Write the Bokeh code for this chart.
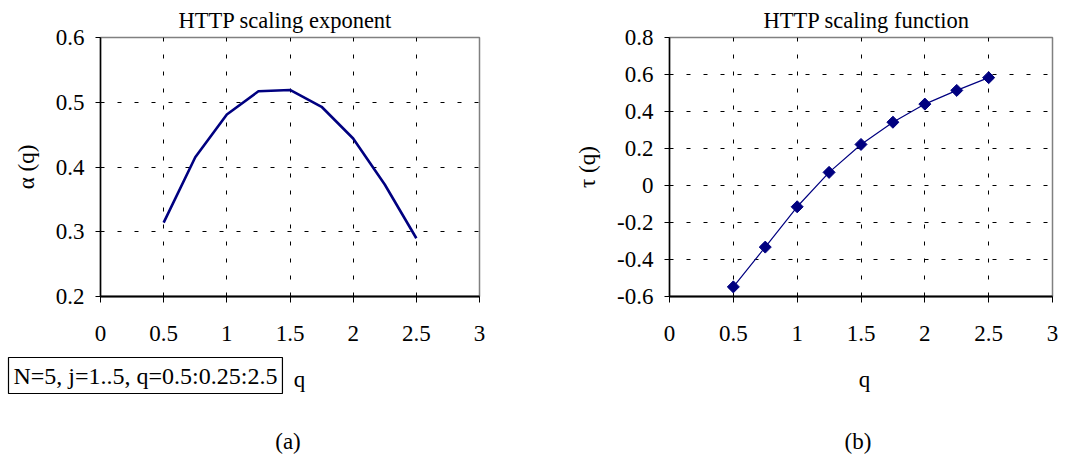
import math
from bokeh.plotting import figure
from bokeh.models import Range1d, FixedTicker, Label, Title
from bokeh.layouts import row, column
from bokeh.embed import file_html
from bokeh.resources import INLINE

# ---- data ----
q = [0.5, 0.75, 1.0, 1.25, 1.5, 1.75, 2.0, 2.25, 2.5]
alpha_q = [0.314, 0.415, 0.481, 0.517, 0.519, 0.493, 0.444, 0.373, 0.290]
tau_q = [-0.548, -0.333, -0.115, 0.071, 0.222, 0.342, 0.440, 0.514, 0.583]

x_ticks = [0, 0.5, 1, 1.5, 2, 2.5, 3]
x_tick_labels = ["0", "0.5", "1", "1.5", "2", "2.5", "3"]
alpha_ticks = [0.2, 0.3, 0.4, 0.5, 0.6]
alpha_tick_labels = ["0.2", "0.3", "0.4", "0.5", "0.6"]
tau_ticks = [-0.6, -0.4, -0.2, 0, 0.2, 0.4, 0.6, 0.8]
tau_tick_labels = ["-0.6", "-0.4", "-0.2", "0", "0.2", "0.4", "0.6", "0.8"]

titles = ["HTTP scaling exponent", "HTTP scaling function"]
y_titles = ["\u03b1 (q)", "\u03c4 (q)"]
x_title = "q"
captions = ["(a)", "(b)"]
note = "N=5, j=1..5, q=0.5:0.25:2.5"

FONT = "Liberation Serif"
NAVY = "#000080"
PW, PH = 533, 354      # chart figure size
TH = 457 - PH          # text strip height below each chart


def no_align(fig):
    if "frame_align" in fig.properties():
        fig.frame_align = False


def make_panel(border_left, border_right, y_start, y_end, yticks, ylabels,
               title, title_offset, ytitle):
    p = figure(width=PW, height=PH, x_range=Range1d(0, 3),
               y_range=Range1d(y_start, y_end), output_backend="svg",
               toolbar_location=None, title=None,
               min_border_left=border_left, min_border_right=border_right,
               min_border_top=36, min_border_bottom=PH - 296)
    no_align(p)
    p.background_fill_color = "white"
    p.border_fill_color = "white"
    p.outline_line_color = "#808080"
    p.outline_line_width = 1.5

    p.xaxis.ticker = FixedTicker(ticks=x_ticks)
    p.xaxis.major_label_overrides = dict(zip(x_ticks, x_tick_labels))
    p.yaxis.ticker = FixedTicker(ticks=yticks)
    p.yaxis.major_label_overrides = dict(zip(yticks, ylabels))
    for ax in (p.xaxis[0], p.yaxis[0]):
        ax.major_tick_in = 0
        ax.minor_tick_in = 0
        ax.minor_tick_out = 0
        ax.major_tick_line_color = "black"
        ax.axis_line_color = "black"
        ax.major_label_text_font = FONT
        ax.major_label_text_font_size = "23px"
        ax.major_label_text_color = "black"
    p.xaxis.major_tick_out = 6
    p.xaxis.axis_line_width = 2
    p.xaxis.major_label_standoff = 23
    p.yaxis.major_tick_out = 5
    p.yaxis.axis_line_width = 1.5
    p.yaxis.major_label_standoff = 11
    p.yaxis.axis_label = ytitle
    p.yaxis.axis_label_text_font = FONT
    p.yaxis.axis_label_text_font_size = "23px"
    p.yaxis.axis_label_text_font_style = "normal"
    p.yaxis.axis_label_text_color = "black"
    p.yaxis.axis_label_standoff = 14

    p.grid.grid_line_color = "black"
    p.grid.grid_line_width = 1
    p.grid.grid_line_dash = "4 13"

    p.add_layout(Title(text=title, align="left", offset=title_offset,
                       vertical_align="bottom", standoff=10,
                       text_font=FONT, text_font_size="22.5px",
                       text_font_style="normal", text_color="black"), "above")
    return p


def make_strip():
    t = figure(width=PW, height=TH, x_range=Range1d(0, PW), y_range=Range1d(TH, 0),
               output_backend="svg", toolbar_location=None, title=None,
               x_axis_type=None, y_axis_type=None, min_border=0,
               min_border_left=0, min_border_right=0, min_border_top=0,
               min_border_bottom=0)
    no_align(t)
    t.outline_line_color = None
    t.grid.visible = False
    t.background_fill_color = "white"
    t.border_fill_color = "white"
    return t


def add_text(p, x, y, text, size="23px", align="center", baseline="alphabetic", **kw):
    p.add_layout(Label(x=x, y=y, text=text,
                       text_font=FONT, text_font_size=size, text_color="black",
                       text_align=align, text_baseline=baseline, **kw))


# ---- panel (a) ----
p1 = make_panel(100, 54, 0.2, 0.6, alpha_ticks, alpha_tick_labels, titles[0], 78, y_titles[0])
p1.line(q, alpha_q, line_color=NAVY, line_width=2.6)
t1 = make_strip()
add_text(t1, 8, 375 - PH, note, size="24px", align="left", baseline="middle",
         border_line_color="black", border_line_width=1.2,
         background_fill_color="white", padding=5)
add_text(t1, 299, 379 - PH, x_title)
add_text(t1, 287.5, 441 - PH, captions[0])

# ---- panel (b) ----
p2 = make_panel(136, 14, -0.6, 0.8, tau_ticks, tau_tick_labels, titles[1], 94, y_titles[1])
p2.line(q, tau_q, line_color=NAVY, line_width=1.2)
p2.scatter(q, tau_q, marker="square", angle=math.pi / 4, size=8.5,
           fill_color=NAVY, line_color=NAVY)
t2 = make_strip()
add_text(t2, 864 - PW, 379 - PH, x_title)
add_text(t2, 857.5 - PW, 441 - PH, captions[1])

layout = row(column(p1, t1), column(p2, t2))
open("out.html", "w").write(file_html(layout, INLINE))
